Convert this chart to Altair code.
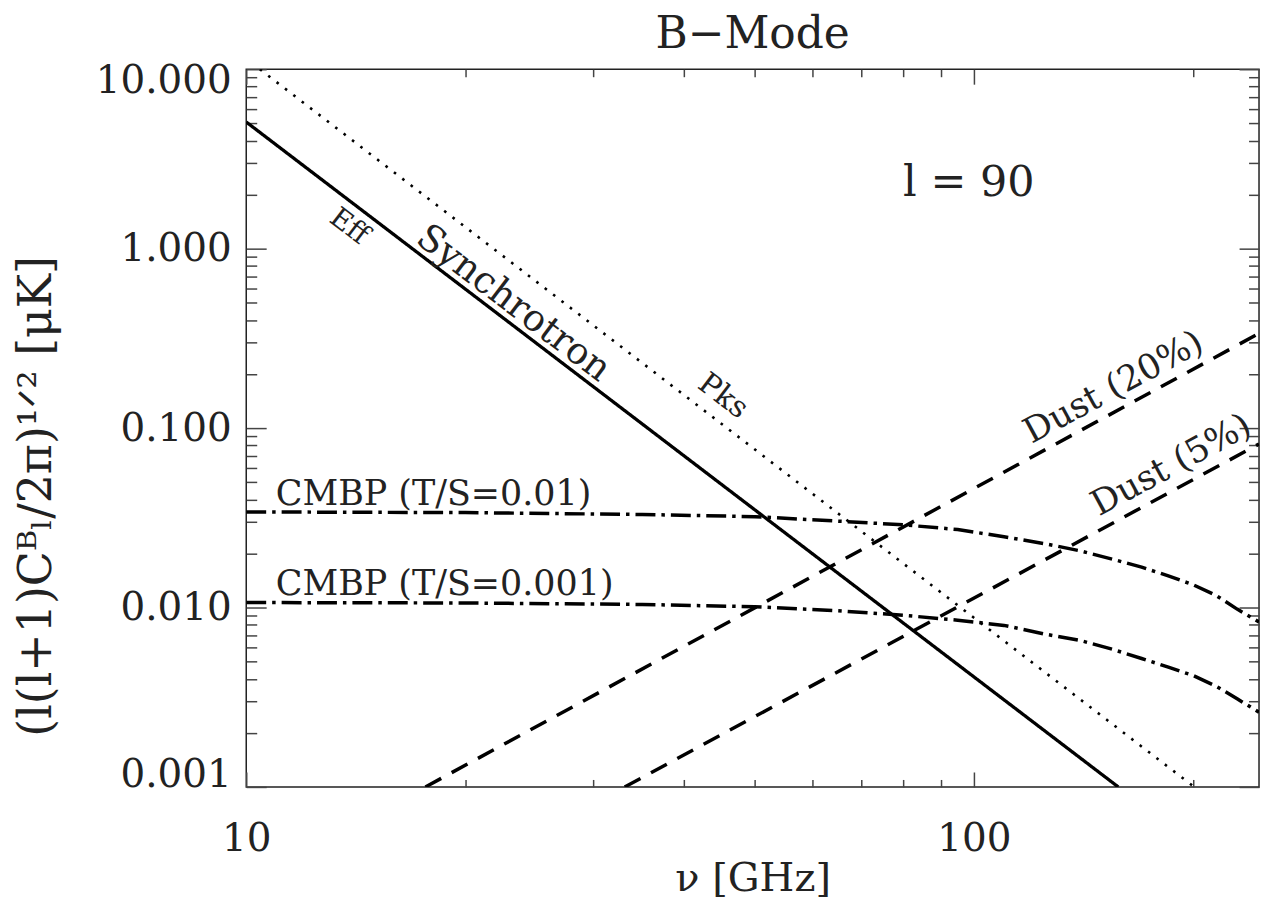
import altair as alt
import pandas as pd

# ---------------- data ----------------
sync_freq = [10.0, 157.9]
sync_val = [5.08, 0.001]

pks_freq = [10.44, 200.8]
pks_val = [10.0, 0.001]

dust20_freq = [17.63, 246.5]
dust20_val = [0.001, 0.337]

dust5_freq = [33.12, 246.5]
dust5_val = [0.001, 0.0815]

cmb_freq = [10, 20, 35, 50, 65, 80, 95, 110, 125, 140, 155, 170, 185, 200, 215, 230, 246.5]
cmb_ts01 = [0.0341, 0.0338, 0.0330, 0.0321, 0.0303, 0.0289, 0.0272, 0.0248, 0.0227,
            0.0207, 0.0186, 0.0168, 0.0150, 0.0134, 0.0117, 0.0098, 0.0083]
cmb_ts001 = [0.01066, 0.0106, 0.0104, 0.0101, 0.0096, 0.00905, 0.0085, 0.00795, 0.00712,
             0.00655, 0.00585, 0.0052, 0.00465, 0.00418, 0.00365, 0.0031, 0.00261]

label_text = ["Eff", "Synchrotron", "Pks", "Dust (20%)", "Dust (5%)", "l  =  90"]
label_freq = [13.84, 23.28, 45.2, 155.5, 186.7, 98.4]
label_val = [1.325, 0.4948, 0.1506, 0.169, 0.0623, 2.33]
label_angle = [37.3, 37.3, 37.3, 331.5, 331.5, 0]
label_size = [28, 37, 30, 35, 35, 43]

cmb_label_text = ["CMBP (T/S=0.01)", "CMBP (T/S=0.001)"]
cmb_label_freq = [10.98, 10.98]
cmb_label_val = [0.0373, 0.0118]

title_text = ["B−Mode"]

x_major = [10, 100]
x_minor = [20, 30, 40, 50, 60, 70, 80, 90, 200]
y_major = [0.001, 0.01, 0.1, 1, 10]
y_minor = [round(m * 10.0 ** e, 6) for e in range(-3, 1) for m in range(2, 10)]

# ---------------- layout ----------------
W, H = 1016, 720
F = "DejaVu Serif"
TXT = "#222222"

xs = alt.Scale(type="log", domain=[10, 246.5], nice=False)
ys = alt.Scale(type="log", domain=[0.001, 10], nice=False)


def mk(freq, val, name):
    return pd.DataFrame({"freq": freq, "value": val, "series": name})


df_sync = mk(sync_freq, sync_val, "sync")
df_pks = mk(pks_freq, pks_val, "pks")
df_dust = pd.concat([mk(dust20_freq, dust20_val, "d20"), mk(dust5_freq, dust5_val, "d5")])
df_cmb = pd.concat([mk(cmb_freq, cmb_ts01, "c01"), mk(cmb_freq, cmb_ts001, "c001")])
df_all = pd.concat([df_sync, df_pks, df_dust, df_cmb])


def line(df, dash, width):
    return alt.Chart(df).mark_line(
        color="black", strokeWidth=width, strokeDash=dash, clip=True
    ).encode(
        x=alt.X("freq:Q", scale=xs, axis=None),
        y=alt.Y("value:Q", scale=ys, axis=None),
        detail="series:N",
    )


def tick_axis(orient, offset, values, size):
    return alt.Axis(
        orient=orient, offset=offset, values=values, tickSize=size, labels=False,
        domain=False, grid=False, title=None, tickColor="#444444", tickWidth=1.5,
    )


# axes carrying labels and titles
label_layer = alt.Chart(df_all).mark_point(opacity=0).encode(
    x=alt.X("freq:Q", scale=xs, axis=alt.Axis(
        orient="bottom", values=x_major, format="d", ticks=False, domain=False, grid=False,
        labelFont=F, labelFontSize=39, labelColor=TXT, labelPadding=33, labelFlush=False,
        title="ν [GHz]", titleFont=F, titleFontSize=40, titleFontWeight="normal",
        titleColor=TXT, titleY=92, titleBaseline="middle")),
    y=alt.Y("value:Q", scale=ys, axis=alt.Axis(
        orient="left", values=y_major, format=".3f", ticks=False, domain=False, grid=False,
        labelFont=F, labelFontSize=39, labelColor=TXT, labelPadding=15, labelFlush=True,
        labelFlushOffset=8,
        title="(l(l+1)Cᴮₗ/2π)¹ᐟ² [μK]", titleFont=F, titleFontSize=46,
        titleFontWeight="normal", titleColor=TXT, titleAngle=270, titleX=-210,
        titleY=428, titleBaseline="middle", titleAlign="center")),
)


def tick_layer(xo, xoff, xv, xsz, yo, yoff, yv, ysz):
    return alt.Chart(df_all).mark_point(opacity=0).encode(
        x=alt.X("freq:Q", scale=xs, axis=tick_axis(xo, xoff, xv, xsz)),
        y=alt.Y("value:Q", scale=ys, axis=tick_axis(yo, yoff, yv, ysz)),
    )


t1 = tick_layer("top", -H, x_major, 15, "right", -W, y_major, 20)
t2 = tick_layer("top", -H, x_minor, 7.5, "right", -W, y_minor, 10.5)
t3 = tick_layer("bottom", -H, x_major, 15, "left", -W, y_major, 20)
t4 = tick_layer("bottom", -H, x_minor, 7.5, "left", -W, y_minor, 10.5)

l_sync = line(df_sync, [1, 0], 3.3)
l_pks = line(df_pks, [2.6, 8.0], 2.6)
l_dust = line(df_dust, [18, 12], 3.5)
l_cmb = line(df_cmb, [20, 6, 3.5, 6], 3.5)

df_lab = pd.DataFrame({"freq": label_freq, "value": label_val, "label": label_text,
                       "angle": label_angle, "size": label_size})
txt = alt.Chart(df_lab).mark_text(align="center", baseline="middle", font=F, color=TXT).encode(
    x=alt.X("freq:Q", scale=xs, axis=None),
    y=alt.Y("value:Q", scale=ys, axis=None),
    text="label:N",
    angle=alt.Angle("angle:Q", scale=None),
    size=alt.Size("size:Q", scale=None),
)

df_clab = pd.DataFrame({"freq": cmb_label_freq, "value": cmb_label_val, "label": cmb_label_text})
ctxt = alt.Chart(df_clab).mark_text(align="left", baseline="alphabetic", font=F, color=TXT,
                                    fontSize=35).encode(
    x=alt.X("freq:Q", scale=xs, axis=None),
    y=alt.Y("value:Q", scale=ys, axis=None),
    text="label:N",
)

# chart title drawn as a text mark centred above the plot area
ttl = alt.Chart(pd.DataFrame({"t": title_text})).mark_text(
    align="center", baseline="alphabetic", font=F, fontSize=44, color=TXT
).encode(text="t:N", x=alt.value(W / 2), y=alt.value(-21))

chart = alt.layer(
    label_layer, t1, t2, t3, t4, l_sync, l_pks, l_dust, l_cmb, txt, ctxt, ttl
).resolve_axis(
    x="independent", y="independent"
).properties(
    width=W, height=H,
    autosize=alt.AutoSizeParams(type="none"),
    padding={"left": 239, "top": 60, "right": 5, "bottom": 115},
).configure_view(stroke="#222222", strokeWidth=1.5)

chart.save("out.html", embed_options={"renderer": "svg", "actions": False})
